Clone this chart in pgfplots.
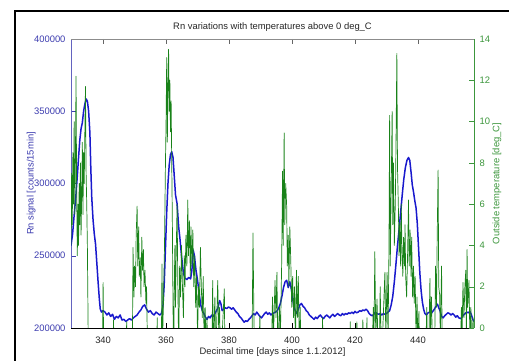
\documentclass[border=0pt]{standalone}
\usepackage{pgfplots}
\pgfplotsset{compat=1.18}
\usepackage{fontspec}
\setmainfont{Liberation Sans}
\definecolor{rnblue}{RGB}{25,25,205}
\definecolor{lblblue}{RGB}{60,60,175}
\definecolor{tgreen}{RGB}{25,130,25}
\definecolor{lblgreen}{RGB}{60,150,60}
\pgfplotstableread{
day val
329.8 257000
330.3 265000
330.8 278000
331.3 290000
331.8 305000
332.2 318000
332.6 330000
333.0 338000
333.4 342000
333.8 350000
334.2 355000
334.6 358500
335.0 357000
335.4 350000
335.8 335000
336.1 310000
336.4 290000
336.8 275000
337.2 265000
337.6 258000
338.0 245000
338.4 232000
338.8 220000
339.1 213000
339.5 211000
340.0 212000
340.6 211000
341.2 209000
341.8 210500
342.4 208000
343.0 209500
343.6 206000
344.2 208000
344.8 207000
345.4 209000
346.0 205500
346.6 206000
347.2 204500
347.8 205500
348.4 206500
349.0 205500
349.6 207000
350.2 208000
350.8 209000
351.4 211000
352.0 212500
352.6 215000
353.2 216000
353.8 213000
354.4 211000
355.0 212000
355.6 210000
356.2 209000
356.8 211000
357.4 210000
358.0 209000
358.5 210000
359.0 215000
359.4 230000
359.8 255000
360.2 280000
360.6 300000
361.0 313000
361.4 320000
361.8 322000
362.2 318000
362.6 305000
363.0 292000
363.5 286000
364.0 270000
364.4 262000
364.9 250000
365.5 238000
366.0 234500
366.6 233500
367.2 235000
367.8 234000
368.2 240000
368.6 254000
369.0 250000
369.5 240000
370.0 233000
370.5 224000
371.0 216000
371.5 212000
372.0 210000
372.5 207500
373.0 206000
373.5 208000
374.0 207000
374.5 209000
375.0 208000
375.5 210000
376.0 212000
376.5 214000
377.0 219000
377.4 217000
377.8 212000
378.3 213000
378.8 214000
379.3 213500
379.8 214500
380.3 214000
380.8 213000
381.3 214000
381.8 212500
382.3 211000
382.8 210000
383.3 208000
383.8 207000
384.3 205500
384.8 204000
385.3 205000
385.8 204500
386.3 206000
386.8 207000
387.3 208500
387.8 210000
388.3 209000
388.8 211000
389.3 209500
389.8 208000
390.3 207000
390.8 208500
391.3 210000
391.8 211000
392.3 209500
392.8 210500
393.3 209000
393.8 210000
394.3 210500
394.8 211000
395.3 212000
395.8 214000
396.3 217000
396.8 222000
397.3 228000
397.8 232000
398.3 233000
398.8 228000
399.3 232000
399.7 228000
400.1 222000
400.5 216000
401.0 212000
401.5 210000
402.0 213000
402.5 216000
403.0 217000
403.5 215000
404.0 214000
404.5 212000
405.0 211000
405.5 209000
406.0 208000
406.5 207000
407.0 206000
407.5 207500
408.0 206500
408.5 208000
409.0 209000
409.5 207500
410.0 206500
410.5 208000
411.0 209000
411.5 208000
412.0 207000
412.5 208500
413.0 209500
413.5 208000
414.0 209000
414.5 210000
415.0 209000
415.5 208500
416.0 210000
416.5 209000
417.0 210000
417.5 209500
418.0 210500
418.5 210000
419.0 211000
419.5 210000
420.0 211500
420.5 210500
421.0 211000
421.5 212000
422.0 211500
422.5 212500
423.0 212000
423.5 213000
424.0 212000
424.5 210000
425.0 209000
425.5 208500
426.0 209500
426.5 211000
427.0 210000
427.5 209500
428.0 210000
428.5 209000
429.0 210000
429.5 209500
430.0 210000
430.5 211000
431.0 212000
431.5 216000
432.0 222000
432.5 232000
433.0 244000
433.5 257000
434.0 268000
434.5 280000
435.0 292000
435.5 303000
436.0 311000
436.5 316000
437.0 318000
437.4 316000
437.8 308000
438.2 299000
438.6 294000
439.0 288000
439.4 283000
439.8 272000
440.2 255000
440.6 238000
441.0 226000
441.4 218000
441.8 213000
442.2 210000
442.7 209000
443.2 210500
443.7 211000
444.2 210000
444.7 211500
445.2 213000
445.7 215000
446.2 216500
446.6 214000
447.0 212000
447.5 208000
448.0 207000
448.5 208500
449.0 209500
449.5 210500
450.0 210000
450.5 209000
451.0 210000
451.5 209000
452.0 207500
452.5 208500
453.0 207000
453.5 206500
454.0 207500
454.5 209000
455.0 210000
455.5 211000
456.0 210500
456.5 211500
457.0 209000
457.4 206000
457.8 204500
}\rndata
\pgfplotstableread{
day temp
329.8 4.0
330.0 7.5
330.2 5.0
330.4 8.5
330.6 6.0
330.8 10.0
331.0 5.5
331.2 8.0
331.4 12.2
331.6 6.5
331.8 3.5
332.0 6.0
332.2 4.0
332.4 7.0
332.6 5.0
332.8 8.0
333.0 4.5
333.2 6.5
333.4 9.0
333.6 5.5
333.8 8.5
334.0 7.0
334.2 9.5
334.4 11.7
334.6 7.5
334.8 6.0
335.0 4.0
335.3 -1.0
335.6 -3.0
336.5 -2.5
337.5 -4.0
338.5 -3.0
339.5 -2.0
339.8 -1.0
340.0 2.2
340.2 -1.5
340.5 -3.0
342.0 -2.5
343.0 -2.0
343.3 0.4
343.6 -2.0
345.0 -3.0
347.0 -2.0
347.5 0.3
347.8 -2.0
349.0 -1.5
349.3 -1.0
349.5 3.9
349.8 1.5
350.0 3.0
350.3 2.0
350.5 4.5
350.8 5.9
351.0 3.0
351.3 4.9
351.5 2.5
351.8 3.4
352.0 1.5
352.3 4.4
352.5 2.8
352.8 3.8
353.0 2.0
353.3 2.8
353.6 1.2
353.8 2.0
354.0 0.0
354.3 -2.5
355.0 -3.0
356.0 -2.0
357.0 -1.0
357.2 0.5
357.4 -2.0
358.5 -1.0
358.7 3.1
358.9 -0.5
359.2 1.5
359.5 4.0
359.8 8.0
360.0 10.0
360.2 13.1
360.4 9.0
360.6 11.8
360.8 13.5
361.0 10.5
361.2 12.0
361.4 9.5
361.6 11.0
361.8 8.0
362.0 5.0
362.2 1.0
362.4 -1.5
362.6 2.0
362.8 4.0
363.0 1.0
363.2 3.5
363.5 6.0
363.7 2.5
364.0 -1.0
364.3 3.0
364.6 1.5
364.9 4.0
365.2 2.0
365.5 0.5
365.8 3.5
366.0 2.0
366.3 4.5
366.6 3.0
366.9 6.2
367.1 3.5
367.4 5.2
367.7 2.5
367.9 4.9
368.2 3.0
368.5 4.75
368.8 2.0
369.1 3.5
369.4 1.0
369.7 2.5
370.0 -0.5
370.3 2.0
370.6 1.0
370.9 3.9
371.2 2.0
371.5 0.5
371.8 2.5
372.1 -1.0
372.4 1.0
372.7 -1.0
373.0 0.5
373.3 -2.0
374.5 -2.0
374.8 2.3
375.0 -1.0
375.5 1.5
375.8 -1.5
376.4 2.3
376.7 0.0
377.0 1.0
377.3 -2.0
378.5 1.9
378.7 -1.5
379.5 -3.0
382.0 -3.0
384.0 -2.0
385.5 -3.0
387.3 -1.0
387.6 4.6
387.9 0.5
388.2 -2.0
389.6 -0.5
389.8 0.6
390.0 -2.0
392.0 -3.0
393.5 -1.0
393.8 1.5
394.1 -0.5
394.6 2.3
394.9 0.5
395.2 2.7
395.5 -1.0
396.0 1.0
396.3 -0.5
396.7 3.0
397.0 7.6
397.2 4.0
397.5 9.45
397.7 5.0
398.0 7.0
398.3 5.9
398.5 3.0
398.8 4.5
399.0 2.0
399.3 4.9
399.6 3.3
399.9 1.0
400.2 2.5
400.5 0.5
400.8 2.0
401.1 -1.0
401.4 2.8
401.7 0.5
402.0 2.5
402.3 -1.0
402.6 1.0
402.9 -2.0
404.0 -3.0
406.0 -2.0
408.0 -3.0
409.5 -1.0
409.7 0.5
409.9 -2.0
412.0 -3.0
414.0 -2.0
416.0 -3.0
418.3 -1.0
418.5 0.3
418.7 -2.0
420.4 -1.0
420.6 0.3
420.8 -2.0
422.3 -1.0
422.5 0.4
422.7 -1.5
423.6 -1.0
423.8 0.5
424.0 -1.5
425.0 -2.0
425.5 -1.0
425.8 1.0
426.0 -1.0
426.3 3.7
426.6 -0.5
427.0 1.4
427.3 -1.0
427.8 -0.5
428.0 2.0
428.3 -0.5
428.8 -0.2
429.5 2.7
429.8 -0.5
430.2 2.7
430.5 -0.5
430.8 4.0
431.0 10.3
431.2 3.0
431.5 6.7
431.8 10.5
432.0 5.0
432.2 8.0
432.5 4.0
432.8 6.0
433.0 8.5
433.3 13.3
433.5 7.8
433.8 5.7
434.0 3.5
434.2 5.1
434.5 3.0
434.7 6.0
434.9 3.9
435.2 2.5
435.4 4.4
435.7 3.0
435.9 5.0
436.1 2.5
436.4 1.5
436.7 3.5
437.0 6.2
437.2 3.0
437.5 4.75
437.8 2.5
438.0 4.4
438.3 1.5
438.6 3.0
438.8 1.2
439.1 2.5
439.4 -0.5
439.7 1.5
440.0 -1.0
440.3 0.8
440.6 -2.0
441.5 -3.0
442.5 -1.0
442.8 1.0
443.0 -1.0
443.5 -0.5
443.8 2.4
444.0 0.0
444.3 1.5
444.6 -1.0
445.3 -1.0
445.6 3.0
445.9 1.0
446.1 4.3
446.4 7.65
446.6 2.0
446.9 1.6
447.1 -0.5
447.5 3.0
447.7 -1.0
448.5 -3.0
450.5 -3.0
452.0 -2.0
453.5 -1.0
453.8 1.0
454.0 -0.5
454.3 2.2
454.6 0.5
454.9 2.0
455.2 2.8
455.4 -0.5
455.6 3.8
455.8 1.0
456.2 2.3
456.5 -0.5
456.8 1.0
457.1 -1.0
457.5 0.5
457.8 -1.0
}\tempdata
\begin{document}
\begin{tikzpicture}
\useasboundingbox (0pt,0pt) rectangle (509pt,361pt);
\draw[line width=2.6pt] (15pt,0pt) -- (15pt,350pt) -- (510pt,350pt);
\pgfplotsset{
  common/.style={
    at={(71pt,33pt)}, anchor=south west,
    scale only axis, width=403pt, height=289pt,
    xmin=329.8, xmax=457.8,
    xtick={340,360,380,400,420,440},
    tick align=inside, major tick length=5pt,
    axis line style={-},
    every tick label/.append style={font=\fontsize{9.4}{11}\selectfont},
    label style={font=\fontsize{9.4}{11}\selectfont},
    /pgf/number format/assume math mode=true,
  }
}
\begin{axis}[common,
  ymin=200000, ymax=400000,
  axis x line*=bottom, axis y line*=left,
  x axis line style={black},
  y axis line style={lblblue!80},
  ytick={200000,250000,300000,350000,400000},
  scaled y ticks=false,
  yticklabel style={/pgf/number format/fixed, /pgf/number format/1000 sep={}, color=lblblue, xshift=-2pt},
  xticklabel style={anchor=base, yshift=-16pt, color=black!85},
  ytick style={lblblue},
  xtick style={black},
  ylabel={Rn signal [counts/15min]},
  ylabel style={at={(axis description cs:-0.099,0.5)}, anchor=center, color=lblblue},
  xlabel={Decimal time [days since 1.1.2012]},
  xlabel style={at={(axis description cs:0.5,0)}, anchor=base, yshift=-27pt, color=black!85},
  title={Rn variations with temperatures above 0 deg\_C},
  title style={at={(axis description cs:0.5,1)}, anchor=base, yshift=3.5pt, font=\fontsize{9.4}{11}\selectfont, color=black!85},
]
\addplot[rnblue, line width=1.5pt, line join=round] table[x=day, y=val] {\rndata};
\end{axis}
\begin{axis}[common,
  ymin=0, ymax=14,
  axis x line*=top, axis y line*=right,
  x axis line style={black!45},
  y axis line style={lblgreen},
  xticklabels={},
  xtick style={black!60},
  ytick={0,2,4,6,8,10,12,14},
  yticklabel style={color=lblgreen, xshift=2pt},
  ytick style={lblgreen},
  ylabel={Outside temperature [deg\_C]},
  ylabel style={at={(axis description cs:1.057,0.5)}, anchor=center, color=lblgreen},
]
\addplot[tgreen, line width=0.7pt, line join=round] table[x=day, y=temp] {\tempdata};
\end{axis}
\end{tikzpicture}
\end{document}
